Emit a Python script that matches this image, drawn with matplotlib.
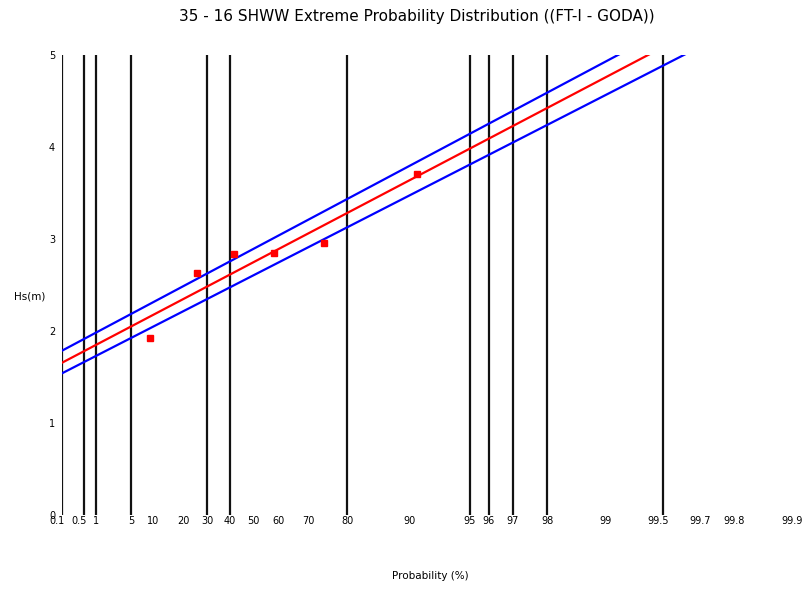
import numpy as np
import matplotlib
matplotlib.use("Agg")
import matplotlib.pyplot as plt
from matplotlib.transforms import ScaledTranslation

# Ranked annual maxima with their non-exceedance probabilities (%)
prob_pct = [9.15, 25.5, 41.8, 58.2, 74.5, 90.8]
hs_m = [1.92, 2.63, 2.84, 2.85, 2.96, 3.71]

# Fitted FT-I line and confidence band, given at the ends of the probability range
line_prob = [0.1, 99.9]
fit_hs = [1.655, 5.85]
upper_hs = [1.786, 6.035]
lower_hs = [1.54, 5.63]

# Probability grid lines
grid_prob = [0.1, 0.5, 1, 5, 30, 40, 80, 95, 96, 97, 98, 99.5]

# Axis ticks
x_ticks = [0.1, 0.5, 1, 5, 10, 20, 30, 40, 50, 60, 70, 80, 90,
           95, 96, 97, 98, 99, 99.5, 99.7, 99.8, 99.9]
x_tick_labels = ["0.1", "0.5", "1", "5", "10", "20", "30", "40", "50", "60",
                 "70", "80", "90", "95", "96", "97", "98", "99", "99.5",
                 "99.7", "99.8", "99.9"]
y_ticks = [0, 1, 2, 3, 4, 5]


def gumbel_fwd(p):
    p = np.clip(np.asarray(p, dtype=float), 1e-6, 100 - 1e-6) / 100.0
    return -np.log(-np.log(p))


def gumbel_inv(g):
    return 100.0 * np.exp(-np.exp(-np.asarray(g, dtype=float)))


W, H = 805, 590
fig = plt.figure(figsize=(W / 100, H / 100), dpi=100)
ax = fig.add_axes([62 / W, (H - 515) / H, (797 - 62) / W, (515 - 55) / H])
ax.set_xscale("function", functions=(gumbel_fwd, gumbel_inv))
ax.set_xlim(0.1, 99.9)
ax.set_ylim(0, 5)

for p in grid_prob:
    ax.axvline(p, color="#111111", lw=1.6, zorder=1)

ax.plot(line_prob, upper_hs, color="#0000ff", lw=1.6, zorder=2)
ax.plot(line_prob, fit_hs, color="#ff0000", lw=1.6, zorder=2)
ax.plot(line_prob, lower_hs, color="#0000ff", lw=1.6, zorder=2)
ax.plot(prob_pct, hs_m, linestyle="none", marker="s", markersize=4,
        color="#ff0000", zorder=3)

for s in ax.spines.values():
    s.set_visible(False)

ax.set_xticks(x_ticks)
ax.set_xticklabels(x_tick_labels)
ax.xaxis.set_minor_locator(matplotlib.ticker.NullLocator())
ax.set_yticks(y_ticks)
ax.tick_params(axis="both", length=0, labelsize=7, colors="#000000")
ax.tick_params(axis="x", pad=1)
ax.tick_params(axis="y", pad=5)

# decimal labels sit a little left of their tick
for lab in ax.get_xticklabels():
    if "." in lab.get_text():
        lab.set_transform(lab.get_transform()
                          + ScaledTranslation(-5 / 100, 0, fig.dpi_scale_trans))

fig.text(30 / W, 1 - 297 / H, "Hs(m)", ha="center", va="center", fontsize=7.5)
fig.text(430 / W, 1 - 576 / H, "Probability (%)", ha="center", va="center",
         fontsize=7.5)
fig.text(417 / W, 1 - 16 / H,
         "35 - 16 SHWW Extreme Probability Distribution ((FT-I - GODA))",
         ha="center", va="center", fontsize=11)

fig.savefig("out.png", dpi=100)
